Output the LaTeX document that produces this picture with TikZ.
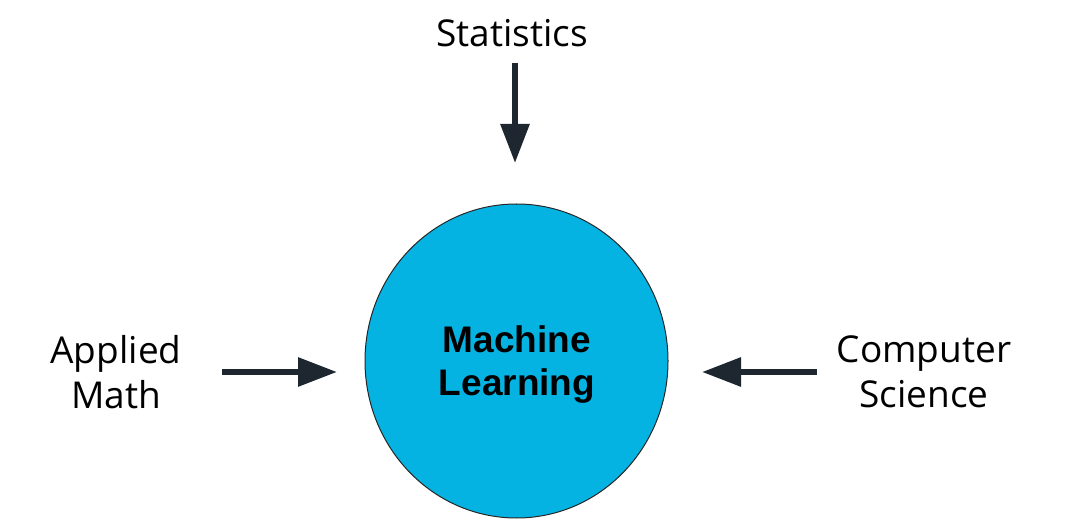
\documentclass[tikz,border=0pt]{standalone}
\usepackage{fontspec}
\setmainfont{Open Sans}
\newfontfamily\mlfont{Liberation Sans}
\usetikzlibrary{arrows.meta,shapes.geometric}
\definecolor{mlblue}{HTML}{05B3E3}
\definecolor{arrowdark}{HTML}{1E2730}
\tikzset{
  lbl/.style={font=\fontsize{37}{45}\selectfont, align=center, text=black, inner sep=0pt},
  flow/.style={draw=arrowdark, line width=6pt, -{Triangle[length=39pt,width=28pt]}, shorten >=0pt},
  mlnode/.style={ellipse, draw=black!85, line width=1pt, fill=mlblue, minimum width=303pt, minimum height=314pt, inner sep=0pt},
  mltext/.style={font=\mlfont\bfseries\fontsize{37}{43}\selectfont, align=center, inner sep=0pt}
}
\begin{document}
\begin{tikzpicture}[x=1pt,y=1pt]
\useasboundingbox (0,0) rectangle (1083,522);
\node[mlnode] (ml) at (516.5,161) {};
\node[mltext] (mlt) at (517,157) {Machine\\Learning};
\node[lbl] (stat) at (512,489) {Statistics};
\node[lbl] (am) at (116,150) {Applied\\Math};
\node[lbl] (cs) at (924,150) {Computer\\Science};
\coordinate (sa) at (515,459);
\coordinate (sb) at (515,359);
\coordinate (aa) at (222,150);
\coordinate (ab) at (337,150);
\coordinate (ca) at (817,150);
\coordinate (cb) at (702,150);
\draw[flow] (sa) -- (sb);
\draw[flow] (aa) -- (ab);
\draw[flow] (ca) -- (cb);
\end{tikzpicture}
\end{document}
